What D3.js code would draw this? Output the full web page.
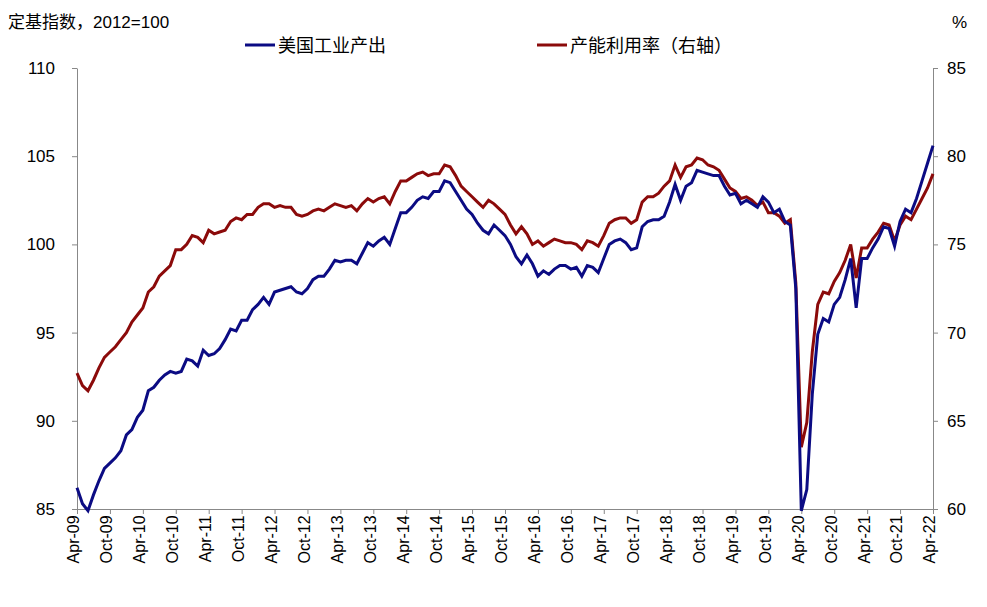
<!DOCTYPE html>
<html><head><meta charset="utf-8">
<script src="https://cdn.jsdelivr.net/npm/d3@7"></script>
<style>body{margin:0;background:#fff}svg{font-family:"Liberation Sans",Arial,"Noto Sans CJK SC",sans-serif}</style>
</head><body><svg id="c" width="987" height="607"></svg>
<script>
const startYear=2009,startMonth=3; // Apr-09
const ipValues=[86.2,85.3,84.9,85.8,86.6,87.3,87.6,87.9,88.3,
89.2,89.5,90.2,90.6,91.7,91.9,92.3,92.6,92.8,92.7,92.8,93.5,
93.4,93.1,94.0,93.7,93.8,94.1,94.6,95.2,95.1,95.7,95.7,96.3,
96.6,97.0,96.6,97.3,97.4,97.5,97.6,97.3,97.2,97.5,98.0,98.2,
98.2,98.6,99.1,99.0,99.1,99.1,98.9,99.5,100.1,99.9,100.2,100.4,
100.0,100.9,101.8,101.8,102.1,102.5,102.7,102.6,103.0,103.0,103.6,103.5,
103.0,102.5,102.0,101.7,101.2,100.8,100.6,101.1,100.8,100.5,100.0,99.3,
98.9,99.4,98.9,98.2,98.5,98.3,98.6,98.8,98.8,98.6,98.7,98.2,
98.8,98.7,98.4,99.2,100.0,100.2,100.3,100.1,99.7,99.8,101.0,101.3,
101.4,101.4,101.6,102.4,103.4,102.5,103.3,103.5,104.2,104.1,104.0,103.9,
103.9,103.3,102.8,102.9,102.3,102.5,102.3,102.1,102.7,102.4,101.8,102.0,
101.3,101.1,97.5,84.9,86.1,91.5,94.9,95.8,95.6,96.6,97.0,98.0,
99.2,96.4,99.2,99.2,99.8,100.3,101.0,100.9,99.9,101.3,102.0,101.8,
102.6,103.6,104.6,105.6];
const cuValues=[67.7,67.0,66.7,67.3,68.0,68.6,68.9,69.2,69.6,
70.0,70.6,71.0,71.4,72.3,72.6,73.2,73.5,73.8,74.7,74.7,75.0,
75.5,75.4,75.1,75.8,75.6,75.7,75.8,76.3,76.5,76.4,76.7,76.7,
77.1,77.3,77.3,77.1,77.2,77.1,77.1,76.7,76.6,76.7,76.9,77.0,
76.9,77.1,77.3,77.2,77.1,77.2,76.9,77.3,77.6,77.4,77.6,77.7,
77.3,78.0,78.6,78.6,78.8,79.0,79.1,78.9,79.0,79.0,79.5,79.4,
78.9,78.3,78.0,77.7,77.4,77.1,77.5,77.3,77.0,76.7,76.1,75.6,
76.0,75.6,75.0,75.2,74.9,75.1,75.3,75.2,75.1,75.1,75.0,74.7,
75.2,75.1,74.9,75.5,76.2,76.4,76.5,76.5,76.2,76.4,77.4,77.7,
77.7,77.9,78.3,78.6,79.5,78.8,79.4,79.5,79.9,79.8,79.5,79.4,
79.2,78.7,78.2,78.0,77.6,77.7,77.5,77.2,77.4,76.8,76.8,76.6,
76.2,76.4,72.8,63.5,64.9,68.9,71.6,72.3,72.2,72.9,73.4,74.1,
75.0,73.1,74.8,74.8,75.3,75.7,76.2,76.1,75.2,76.1,76.6,76.4,
77.0,77.6,78.2,79.0];
const leftTicks=[85,90,95,100,105,110];
const rightTicks=[60,65,70,75,80,85];
const seriesNames=["美国工业产出","产能利用率（右轴）"];
const colors=["#0b0b83","#8b0a0a"];

const svg=d3.select("#c");
const L=77,R=933,T=68,B=509;
const months=d3.range(ipValues.length);
const x=d3.scaleLinear().domain([0,ipValues.length-1]).range([L,R]);
const yl=d3.scaleLinear().domain([85,110]).range([B,T]);
const yr=d3.scaleLinear().domain([60,85]).range([B,T]);
const mn=["Jan","Feb","Mar","Apr","May","Jun","Jul","Aug","Sep","Oct","Nov","Dec"];
const lab=i=>{const m=startMonth+i;return mn[m%12]+"-"+String((startYear+Math.floor(m/12))%100).padStart(2,"0");};

const xa=svg.append("g").attr("transform",`translate(0,${B})`)
 .call(d3.axisBottom(x).tickValues(months.filter(i=>i%6===0)).tickFormat(lab).tickSize(5).tickSizeOuter(0));
xa.selectAll("text").attr("transform","rotate(-90)").attr("text-anchor","end").attr("dx","-0.4em").attr("dy","-0.38em").attr("font-size",16).attr("fill","#000");
const la=svg.append("g").attr("transform",`translate(${L},0)`).call(d3.axisLeft(yl).tickValues(leftTicks).tickSize(5).tickSizeOuter(0));
la.selectAll("text").attr("font-size",17).attr("fill","#000").attr("x",-22);
const ra=svg.append("g").attr("transform",`translate(${R},0)`).call(d3.axisRight(yr).tickValues(rightTicks).tickSize(5).tickSizeOuter(0));
ra.selectAll("text").attr("font-size",17).attr("fill","#000").attr("x",14);
svg.selectAll(".domain,.tick line").attr("stroke","#888");

svg.append("path").datum(cuValues).attr("fill","none").attr("stroke",colors[1]).attr("stroke-width",3)
 .attr("d",d3.line().x((d,i)=>x(i)).y(d=>yr(d)));
svg.append("path").datum(ipValues).attr("fill","none").attr("stroke",colors[0]).attr("stroke-width",3)
 .attr("d",d3.line().x((d,i)=>x(i)).y(d=>yl(d)));

svg.append("text").attr("x",8).attr("y",28).attr("font-size",17).text("定基指数，2012=100");
svg.append("text").attr("x",952).attr("y",28).attr("font-size",17).text("%");
[[245,seriesNames[0],colors[0]],[537,seriesNames[1],colors[1]]].forEach(([lx,t,c])=>{
 svg.append("line").attr("x1",lx).attr("x2",lx+30).attr("y1",45).attr("y2",45).attr("stroke",c).attr("stroke-width",3);
 svg.append("text").attr("x",lx+33).attr("y",52).attr("font-size",18).text(t);
});
</script></body></html>
